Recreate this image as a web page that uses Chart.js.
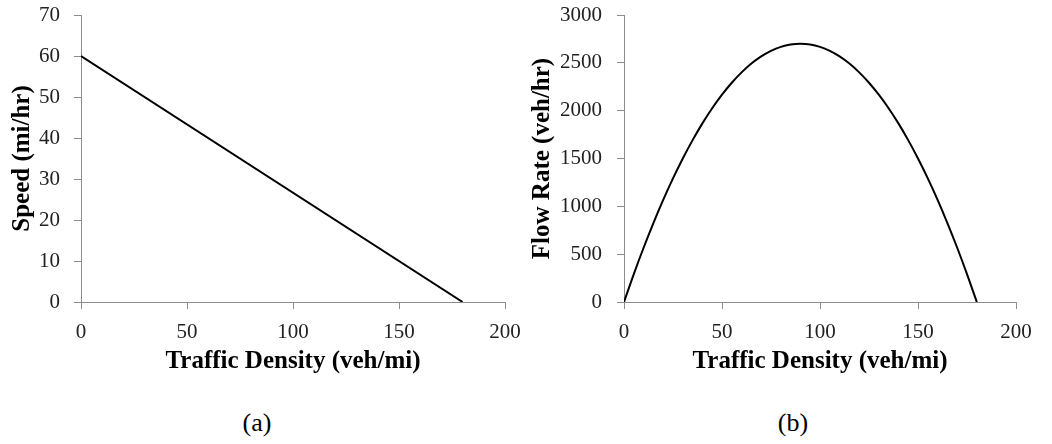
<!DOCTYPE html>
<html>
<head>
<meta charset="utf-8">
<script src="https://cdn.jsdelivr.net/npm/chart.js@4.4.0/dist/chart.umd.min.js"></script>
<style>
  body { margin: 0; background: #fff; width: 1052px; height: 444px; overflow: hidden; }
  .panel { position: absolute; top: 0; width: 526px; height: 380px; }
  .caption { position: absolute; top: 408px; width: 100px; text-align: center;
             font-family: "Liberation Serif", serif; font-size: 26px; color: #000; }
</style>
</head>
<body>
<div class="panel" style="left:0"><canvas id="speedChart"></canvas></div>
<div class="panel" style="left:526px"><canvas id="flowChart"></canvas></div>
<div class="caption" style="left:207px">(a)</div>
<div class="caption" style="left:743px">(b)</div>
<script>
// Data
const densityTicks = [0, 50, 100, 150, 200];

// (a) speed vs density: straight line
const speedDensity = [0, 180];
const speedValues = [60, 0];

// (b) flow vs density: parabola
const flowDensity = [0, 5, 10, 15, 20, 25, 30, 35, 40, 45, 50, 55, 60, 65, 70, 75, 80, 85, 90,
  95, 100, 105, 110, 115, 120, 125, 130, 135, 140, 145, 150, 155, 160, 165, 170, 175, 180];
const flowValues = [0, 292, 567, 825, 1067, 1292, 1500, 1692, 1867, 2025, 2167, 2292, 2400, 2492, 2567, 2625, 2667, 2692, 2700,
  2692, 2667, 2625, 2567, 2492, 2400, 2292, 2167, 2025, 1867, 1692, 1500, 1292, 1067, 825, 567, 292, 0];

const serif = "Liberation Serif";
const axisGray = "#8c8c8c";

function makeOptions(cfg) {
  return {
    responsive: true,
    maintainAspectRatio: false,
    animation: false,
    layout: { padding: { top: 15, right: cfg.padRight, left: 0, bottom: 0 } },
    plugins: { legend: { display: false }, tooltip: { enabled: false } },
    scales: {
      x: {
        type: "linear",
        min: 0,
        max: 200,
        afterBuildTicks: (scale) => {
          scale.ticks = densityTicks.map((v) => ({ value: v }));
        },
        afterFit: (scale) => {
          scale.height = 78;
          scale.paddingLeft = 0;
          scale.paddingRight = 0;
        },
        border: { display: true, color: axisGray, width: 1 },
        grid: { drawOnChartArea: false, color: axisGray, tickLength: 7 },
        ticks: {
          color: "#222",
          padding: 11,
          font: { family: serif, size: 21 },
          callback: (v) => String(v),
        },
        title: {
          display: true,
          text: "Traffic Density (veh/mi)",
          color: "#000",
          padding: { top: 0, bottom: 3 },
          font: { family: serif, size: 25, weight: "bold" },
        },
      },
      y: {
        min: 0,
        max: cfg.yMax,
        afterBuildTicks: (scale) => {
          scale.ticks = cfg.yTicks.map((v) => ({ value: v }));
        },
        afterFit: (scale) => {
          scale.width = cfg.yWidth;
          scale.paddingTop = 0;
          scale.paddingBottom = 0;
        },
        border: { display: true, color: axisGray, width: 1 },
        grid: { drawOnChartArea: false, color: axisGray, tickLength: 7 },
        ticks: {
          color: "#222",
          padding: cfg.tickPad,
          font: { family: serif, size: 21 },
          callback: (v) => String(v),
        },
        title: {
          display: true,
          text: cfg.yTitle,
          color: "#000",
          padding: { top: cfg.titlePad, bottom: 0 },
          font: { family: serif, size: 25, weight: "bold" },
        },
      },
    },
  };
}

// Speed chart
new Chart(document.getElementById("speedChart"), {
  type: "scatter",
  data: {
    datasets: [
      {
        data: speedDensity.map((x, i) => ({ x: x, y: speedValues[i] })),
        showLine: true,
        borderColor: "#000",
        borderWidth: 2,
        pointRadius: 0,
      },
    ],
  },
  options: makeOptions({
    padRight: 21,
    yMax: 70,
    yTicks: [0, 10, 20, 30, 40, 50, 60, 70],
    yWidth: 81,
    tickPad: 14,
    titlePad: 8,
    yTitle: "Speed (mi/hr)",
  }),
});

// Flow chart
new Chart(document.getElementById("flowChart"), {
  type: "scatter",
  data: {
    datasets: [
      {
        data: flowDensity.map((x, i) => ({ x: x, y: flowValues[i] })),
        showLine: true,
        cubicInterpolationMode: "monotone",
        borderColor: "#000",
        borderWidth: 2,
        pointRadius: 0,
      },
    ],
  },
  options: makeOptions({
    padRight: 36,
    yMax: 3000,
    yTicks: [0, 500, 1000, 1500, 2000, 2500, 3000],
    yWidth: 98,
    tickPad: 15,
    titlePad: 2,
    yTitle: "Flow Rate (veh/hr)",
  }),
});
</script>
</body>
</html>
